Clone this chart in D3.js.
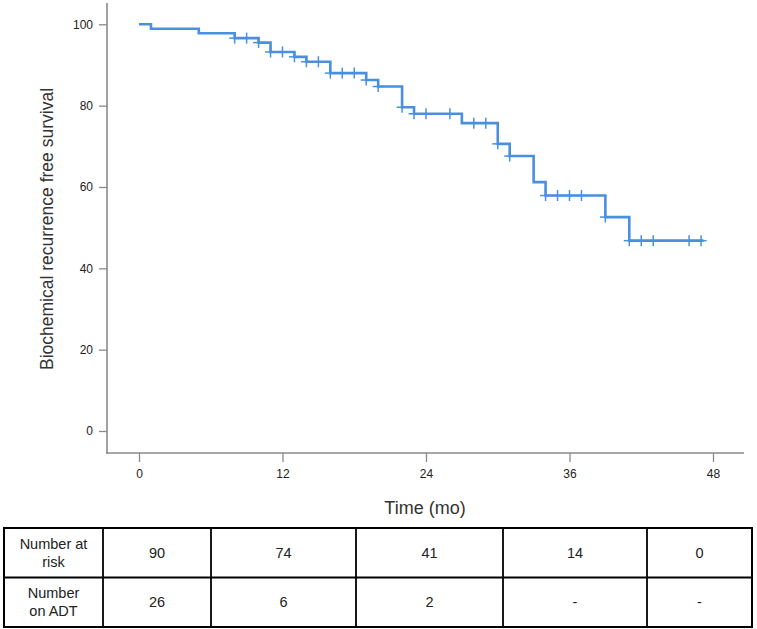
<!DOCTYPE html>
<html>
<head>
<meta charset="utf-8">
<script src="https://cdn.jsdelivr.net/npm/d3@7"></script>
<style>
  html, body { margin: 0; padding: 0; background: #fff; }
  svg { display: block; font-family: "Liberation Sans", Arial, sans-serif; }
</style>
</head>
<body>
<svg id="chart" width="757" height="629"></svg>
<script>
// ---- Data ----
const stepTimes  = [0, 1, 5, 8, 10, 11, 13, 14, 16, 19, 20, 22, 23, 27, 30, 31, 33, 34, 39, 41];
const stepValues = [100, 98.9, 97.8, 96.6, 95.5, 93.2, 92.0, 90.8, 88.0, 86.3, 84.7, 79.6, 78.0, 75.7, 70.6, 67.6, 61.2, 57.9, 52.6, 46.8];
const lastTime = 47.2;
const censorTimes = [8, 9, 10, 11, 12, 13, 14, 15, 16, 17, 18, 19, 20, 22, 23, 24, 26, 28, 29, 30, 31, 34, 35, 36, 37, 39, 41, 42, 43, 46, 47];
const xTicks = [0, 12, 24, 36, 48];
const yTicks = [0, 20, 40, 60, 80, 100];
const yTitle = "Biochemical recurrence free survival";
const xTitle = "Time (mo)";
const rowLabels = [["Number at", "risk"], ["Number", "on ADT"]];
const numberAtRisk = ["90", "74", "41", "14", "0"];
const numberOnADT = ["26", "6", "2", "-", "-"];

// ---- Layout ----
const svg = d3.select("#chart");
const x = d3.scaleLinear().domain([0, 48]).range([139, 713]);
const y = d3.scaleLinear().domain([0, 100]).range([431, 24.3]);
const axisColor = "#8a8a8a";
const textColor = "#222";
const lineColor = "#4a8fe0";

// Axes
const yAxis = svg.append("g").attr("transform", "translate(107,0)")
  .call(d3.axisLeft(y).tickValues(yTicks).tickSize(8).tickPadding(6));
const xAxis = svg.append("g").attr("transform", "translate(0,453)")
  .call(d3.axisBottom(x).tickValues(xTicks).tickSize(9).tickPadding(7));
[yAxis, xAxis].forEach(g => {
  g.select(".domain").remove();
  g.selectAll(".tick line").attr("stroke", axisColor).attr("stroke-width", 1.3);
  g.selectAll(".tick text").attr("fill", textColor)
    .style("font-size", "12px").style("font-family", "'Liberation Sans', Arial, sans-serif");
});
svg.append("line").attr("x1", 107).attr("x2", 107).attr("y1", 3).attr("y2", 453.7)
  .attr("stroke", axisColor).attr("stroke-width", 1.6);
svg.append("line").attr("x1", 106.2).attr("x2", 744).attr("y1", 453).attr("y2", 453)
  .attr("stroke", axisColor).attr("stroke-width", 1.6);

// Titles
svg.append("text").attr("transform", "translate(53,229) rotate(-90)")
  .attr("text-anchor", "middle").attr("fill", "#333")
  .style("font-size", "17.5px").text(yTitle);
svg.append("text").attr("x", 425).attr("y", 514)
  .attr("text-anchor", "middle").attr("fill", "#333")
  .style("font-size", "18px").text(xTitle);

// KM step curve
const pts = stepTimes.map((t, i) => [t, stepValues[i]]);
pts.push([lastTime, stepValues[stepValues.length - 1]]);
const line = d3.line().x(d => x(d[0])).y(d => y(d[1])).curve(d3.curveStepAfter);
svg.append("path").datum(pts).attr("d", line)
  .attr("fill", "none").attr("stroke", lineColor).attr("stroke-width", 2.6);

// Censor marks
function valueAt(t) {
  let v = stepValues[0];
  for (let i = 0; i < stepTimes.length; i++) if (stepTimes[i] <= t) v = stepValues[i];
  return v;
}
const cg = svg.append("g").attr("stroke", lineColor).attr("stroke-width", 1.5);
censorTimes.forEach(t => {
  const cx = x(t), cy = y(valueAt(t));
  cg.append("line").attr("x1", cx).attr("x2", cx).attr("y1", cy - 5.5).attr("y2", cy + 5.5);
  cg.append("line").attr("x1", cx - 5.5).attr("x2", cx + 5.5).attr("y1", cy).attr("y2", cy);
});

// Risk table
const tLeft = 4, tRight = 752, tTop = 528, tMid = 577.5, tBottom = 627;
const colEdges = [tLeft, 103, 211, 356, 503, 647, tRight];
const tg = svg.append("g");
tg.append("rect").attr("x", tLeft).attr("y", tTop).attr("width", tRight - tLeft).attr("height", tBottom - tTop)
  .attr("fill", "none").attr("stroke", "#000").attr("stroke-width", 2);
tg.append("line").attr("x1", tLeft).attr("x2", tRight).attr("y1", tMid).attr("y2", tMid)
  .attr("stroke", "#000").attr("stroke-width", 1.8);
colEdges.slice(1, -1).forEach(cx => {
  tg.append("line").attr("x1", cx).attr("x2", cx).attr("y1", tTop).attr("y2", tBottom)
    .attr("stroke", "#000").attr("stroke-width", 1.8);
});
const rowCenters = [(tTop + tMid) / 2, (tMid + tBottom) / 2];
const rows = [numberAtRisk, numberOnADT];
rowLabels.forEach((lab, r) => {
  const cx = (colEdges[0] + colEdges[1]) / 2;
  const t = tg.append("text").attr("text-anchor", "middle").attr("fill", textColor).style("font-size", "14.5px");
  lab.forEach((s, k) => {
    t.append("tspan").attr("x", cx).attr("y", rowCenters[r] - 4 + k * 18).text(s);
  });
});
rows.forEach((vals, r) => {
  vals.forEach((v, c) => {
    const cx = (colEdges[c + 1] + colEdges[c + 2]) / 2;
    tg.append("text").attr("x", cx).attr("y", rowCenters[r] + 5)
      .attr("text-anchor", "middle").attr("fill", textColor).style("font-size", "14.5px").text(v);
  });
});
</script>
</body>
</html>
